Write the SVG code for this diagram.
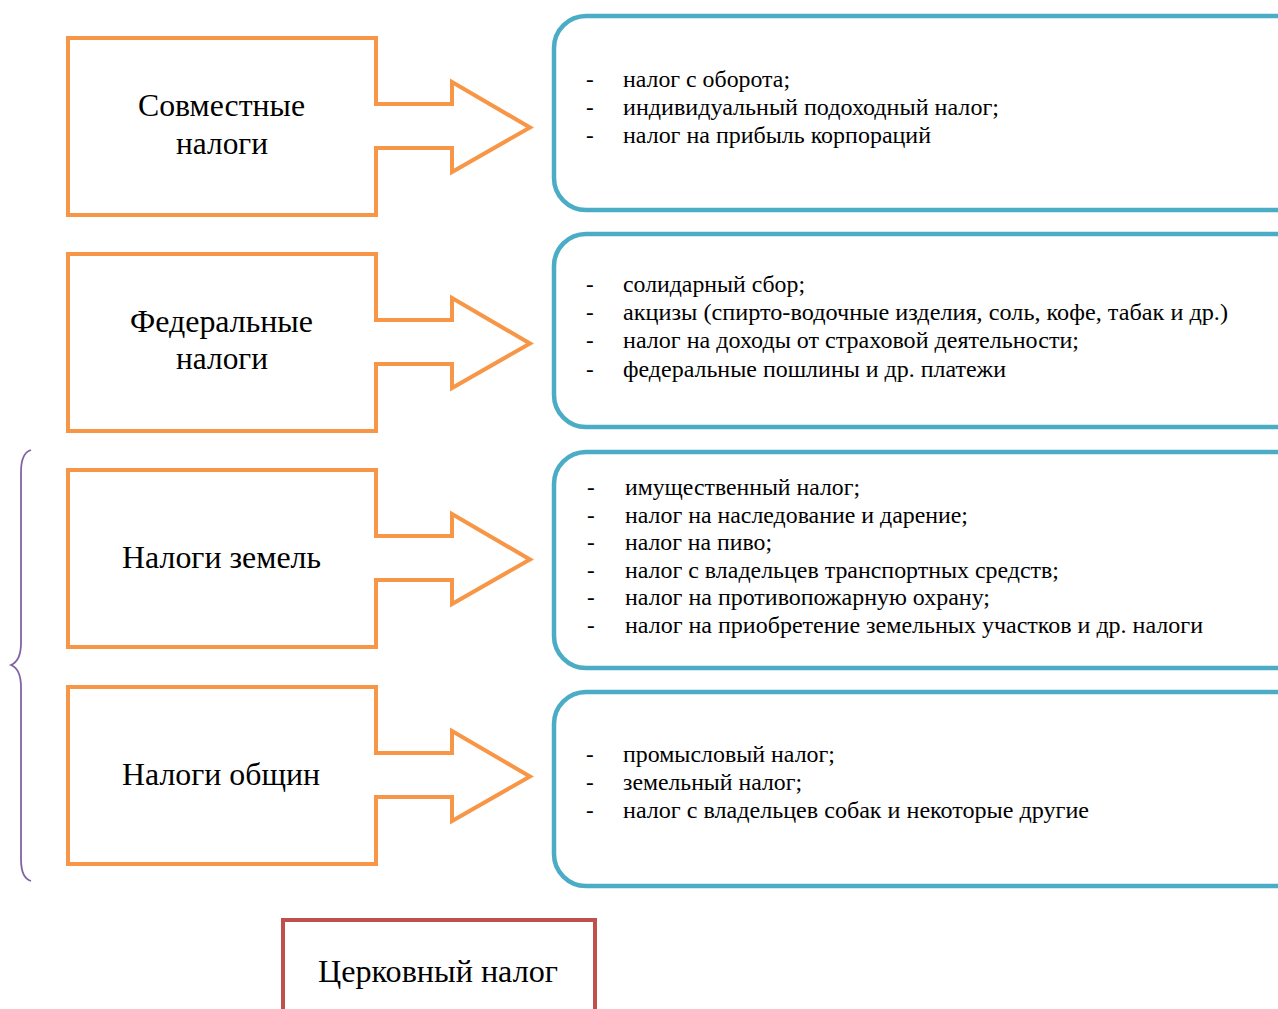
<svg xmlns="http://www.w3.org/2000/svg" width="1278" height="1009" viewBox="0 0 1278 1009">
<style>
.arr{fill:#fff;stroke:#F79646;stroke-width:4;stroke-linejoin:miter}
.box{fill:#fff;stroke:#4BACC6;stroke-width:4.5}
.lbl{font-family:"Liberation Serif","Times New Roman",serif;font-size:31px;fill:#000}
.li{font-family:"Liberation Serif","Times New Roman",serif;font-size:23px;fill:#000}
</style>
<defs>
<path id="arrowShape" d="M68,0 H376 V66 H452 V44 L530,89.5 L452,134 V110 H376 V177 H68 Z"/>
</defs>
<g id="connectors">
<path d="M31,450 C24,452 21,460 21,472 V643 C21,655 18,662 11,665 C18,668 21,675 21,687 V859 C21,871 24,879 31,881" fill="none" stroke="#8064A2" stroke-width="1.8"/>
</g>
<g id="node-sovm">
<use href="#arrowShape" class="arr" transform="translate(0,38)"/>
<text class="lbl" x="138" y="116" textLength="167" lengthAdjust="spacingAndGlyphs">Совместные</text>
<text class="lbl" x="176" y="154" textLength="92" lengthAdjust="spacingAndGlyphs">налоги</text>
</g>
<g id="node-fed">
<use href="#arrowShape" class="arr" transform="translate(0,254)"/>
<text class="lbl" x="130" y="332" textLength="183" lengthAdjust="spacingAndGlyphs">Федеральные</text>
<text class="lbl" x="176" y="369" textLength="92" lengthAdjust="spacingAndGlyphs">налоги</text>
</g>
<g id="node-zem">
<use href="#arrowShape" class="arr" transform="translate(0,470)"/>
<text class="lbl" x="122" y="568" textLength="199" lengthAdjust="spacingAndGlyphs">Налоги земель</text>
</g>
<g id="node-obsh">
<use href="#arrowShape" class="arr" transform="translate(0,687)"/>
<text class="lbl" x="122" y="785" textLength="198" lengthAdjust="spacingAndGlyphs">Налоги общин</text>
</g>
<g id="list-sovm">
<rect class="box" x="554" y="16" width="760" height="194" rx="32"/>
<text class="li" x="586" y="87">-</text><text class="li" x="623" y="87" textLength="167" lengthAdjust="spacingAndGlyphs">налог с оборота;</text>
<text class="li" x="586" y="115">-</text><text class="li" x="623" y="115" textLength="376" lengthAdjust="spacingAndGlyphs">индивидуальный подоходный налог;</text>
<text class="li" x="586" y="143">-</text><text class="li" x="623" y="143" textLength="308" lengthAdjust="spacingAndGlyphs">налог на прибыль корпораций</text>
</g>
<g id="list-fed">
<rect class="box" x="554" y="234" width="760" height="193" rx="32"/>
<text class="li" x="586" y="292">-</text><text class="li" x="623" y="292" textLength="182" lengthAdjust="spacingAndGlyphs">солидарный сбор;</text>
<text class="li" x="586" y="320">-</text><text class="li" x="623" y="320" textLength="605" lengthAdjust="spacingAndGlyphs">акцизы (спирто-водочные изделия, соль, кофе, табак и др.)</text>
<text class="li" x="586" y="348">-</text><text class="li" x="623" y="348" textLength="456" lengthAdjust="spacingAndGlyphs">налог на доходы от страховой деятельности;</text>
<text class="li" x="586" y="377">-</text><text class="li" x="623" y="377" textLength="383" lengthAdjust="spacingAndGlyphs">федеральные пошлины и др. платежи</text>
</g>
<g id="list-zem">
<rect class="box" x="554" y="452" width="760" height="216" rx="32"/>
<text class="li" x="587" y="495">-</text><text class="li" x="625" y="495" textLength="235" lengthAdjust="spacingAndGlyphs">имущественный налог;</text>
<text class="li" x="587" y="523">-</text><text class="li" x="625" y="523" textLength="343" lengthAdjust="spacingAndGlyphs">налог на наследование и дарение;</text>
<text class="li" x="587" y="550">-</text><text class="li" x="625" y="550" textLength="147" lengthAdjust="spacingAndGlyphs">налог на пиво;</text>
<text class="li" x="587" y="578">-</text><text class="li" x="625" y="578" textLength="434" lengthAdjust="spacingAndGlyphs">налог с владельцев транспортных средств;</text>
<text class="li" x="587" y="605">-</text><text class="li" x="625" y="605" textLength="365" lengthAdjust="spacingAndGlyphs">налог на противопожарную охрану;</text>
<text class="li" x="587" y="633">-</text><text class="li" x="625" y="633" textLength="578" lengthAdjust="spacingAndGlyphs">налог на приобретение земельных участков и др. налоги</text>
</g>
<g id="list-obsh">
<rect class="box" x="554" y="692" width="760" height="194" rx="32"/>
<text class="li" x="586" y="762">-</text><text class="li" x="623" y="762" textLength="212" lengthAdjust="spacingAndGlyphs">промысловый налог;</text>
<text class="li" x="586" y="790">-</text><text class="li" x="623" y="790" textLength="179" lengthAdjust="spacingAndGlyphs">земельный налог;</text>
<text class="li" x="586" y="818">-</text><text class="li" x="623" y="818" textLength="466" lengthAdjust="spacingAndGlyphs">налог с владельцев собак и некоторые другие</text>
</g>
<g id="node-church">
<rect x="283" y="920" width="312" height="120" fill="#fff" stroke="#C0504D" stroke-width="4"/>
<text class="lbl" x="318" y="982" textLength="240" lengthAdjust="spacingAndGlyphs">Церковный налог</text>
</g>
</svg>
